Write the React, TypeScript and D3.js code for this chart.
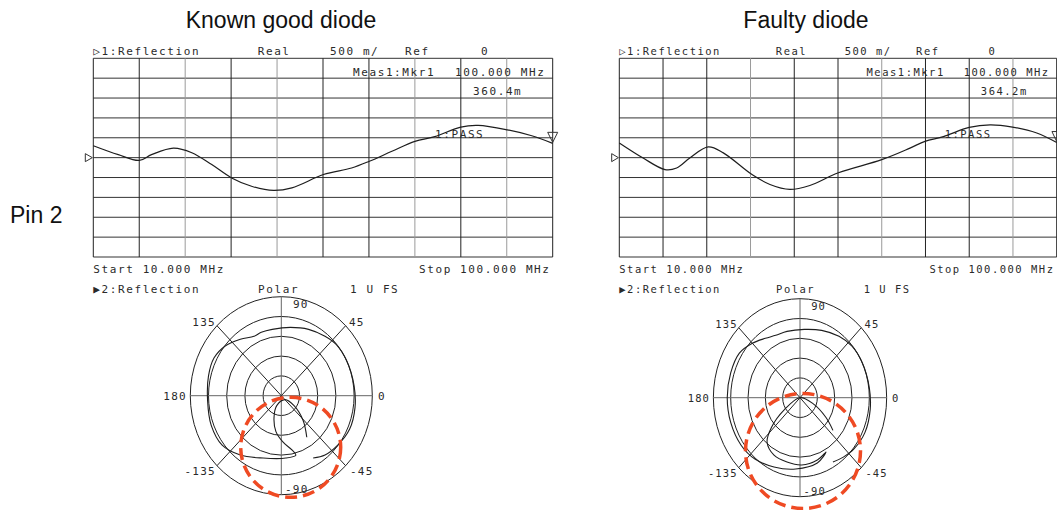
import React from 'react';
import * as d3 from 'd3';

// ---------- data ----------
const goodFreq = [10, 14.9, 19.0, 21.4, 25.7, 29.3, 33.2, 37.1, 41.0, 45.3, 48.9, 55.1, 60.6, 64.1, 68.5, 73.0, 76.9, 82.0, 85.4, 91.1, 95.9, 100];
const goodReal = [0.30, 0.075, -0.07, 0.075, 0.24, 0.125, -0.175, -0.51, -0.72, -0.825, -0.76, -0.425, -0.26, -0.09, 0.16, 0.41, 0.53, 0.77, 0.81, 0.70, 0.55, 0.36];

const faultyFreq = [10, 14.9, 19.4, 21.8, 24.5, 28.3, 31.4, 37.3, 41.0, 45.1, 49.2, 55.1, 64.0, 69.8, 72.9, 76.7, 82.0, 86.3, 90.9, 95.9, 100];
const faultyReal = [0.37, -0.01, -0.30, -0.26, -0.01, 0.27, 0.12, -0.425, -0.675, -0.80, -0.70, -0.38, -0.05, 0.24, 0.41, 0.53, 0.76, 0.825, 0.77, 0.62, 0.38];

const goodPolarRe = [0.28, 0.24, 0.14, 0.04, -0.05, -0.08, -0.06, 0.02, 0.12, 0.16, 0.05, -0.2, -0.45, -0.65, -0.77, -0.81, -0.8, -0.74, -0.62, -0.45, -0.3, -0.22, -0.1, 0.1, 0.3, 0.48, 0.6, 0.72, 0.8, 0.81, 0.75, 0.62, 0.48, 0.35];
const goodPolarIm = [-0.42, -0.25, -0.1, -0.04, -0.1, -0.22, -0.36, -0.47, -0.55, -0.6, -0.63, -0.63, -0.6, -0.5, -0.3, -0.05, 0.2, 0.38, 0.5, 0.57, 0.6, 0.64, 0.67, 0.69, 0.67, 0.6, 0.52, 0.35, 0.1, -0.12, -0.34, -0.5, -0.6, -0.63];

const faultyPolarRe = [0.38, 0.3, 0.15, 0.0, -0.18, -0.33, -0.38, -0.3, -0.15, 0.02, 0.2, 0.3, 0.2, -0.05, -0.3, -0.52, -0.68, -0.8, -0.84, -0.8, -0.7, -0.55, -0.4, -0.28, -0.15, 0.05, 0.25, 0.45, 0.6, 0.72, 0.8, 0.81, 0.75, 0.62, 0.5, 0.38];
const faultyPolarIm = [-0.33, -0.2, -0.06, 0.0, -0.12, -0.3, -0.45, -0.58, -0.65, -0.68, -0.63, -0.55, -0.66, -0.72, -0.7, -0.62, -0.48, -0.25, 0.0, 0.25, 0.45, 0.55, 0.6, 0.63, 0.67, 0.69, 0.68, 0.62, 0.52, 0.35, 0.1, -0.12, -0.35, -0.52, -0.6, -0.65];

const titles = ['Known good diode', 'Faulty diode'];
const markerValues = ['360.4m', '364.2m'];
const rowLabel = 'Pin 2';
const ringLevels = [0.2, 0.4, 0.6, 0.8, 1.0];
const spokeAngles = [0, 45, 90, 135];
const angleLabels = ['0', '45', '90', '135', '180', '-135', '-90', '-45'];
const freqDomain = [10, 100];
const realDomain = [-2.5, 2.5];
const divisions = 10;

// ---------- layout ----------
const W = 459.4;
const TOP = 58.3;
const BOTTOM = 257;
const MONO = '"DejaVu Sans Mono", monospace';
const INK = '#2a2a2a';

type PanelProps = {
  x0: number; sx: number; freq: number[]; real: number[];
  pre: number[]; pim: number[]; marker: string; pcx: number; pcy: number;
  vTone: boolean[];
};

const T = (p: { x: number; y: number; children: any; anchor?: string; size?: number }) => (
  <text x={p.x} y={p.y} fontFamily={MONO} fontSize={p.size ?? 11} letterSpacing={1.6}
    fill={INK} textAnchor={p.anchor ?? 'start'}>{p.children}</text>
);

function Panel({ x0, sx, freq, real, pre, pim, marker, pcx, pcy, vTone }: PanelProps) {
  const x = d3.scaleLinear().domain(freqDomain).range([0, W]);
  const y = d3.scaleLinear().domain(realDomain).range([BOTTOM, TOP]);
  const line = d3.line<number>().x((_, i) => x(freq[i])).y((d) => y(d)).curve(d3.curveCatmullRom.alpha(0.5));
  const xs = d3.range(divisions + 1).map((i) => freqDomain[0] + (i * (freqDomain[1] - freqDomain[0])) / divisions);
  const ys = d3.range(divisions + 1).map((i) => realDomain[0] + (i * (realDomain[1] - realDomain[0])) / divisions);
  const yEnd = y(real[real.length - 1]);

  const rx = 91, ry = 99;
  const px = d3.scaleLinear().domain([-1, 1]).range([pcx - rx, pcx + rx]);
  const py = d3.scaleLinear().domain([-1, 1]).range([pcy + ry, pcy - ry]);
  const pline = d3.line<number>().x((d) => px(d)).y((_, i) => py(pim[i])).curve(d3.curveCatmullRom.alpha(0.5));

  const lab = [
    { t: angleLabels[0], x: pcx + 96.7, y: pcy + 4.3, a: 'start' },
    { t: angleLabels[1], x: pcx + 67.7, y: pcy - 69.7, a: 'start' },
    { t: angleLabels[2], x: pcx + 11.7, y: pcy - 87.7, a: 'start' },
    { t: angleLabels[3], x: pcx - 65.5, y: pcy - 69.7, a: 'end' },
    { t: angleLabels[4], x: pcx - 94.5, y: pcy + 4.3, a: 'end' },
    { t: angleLabels[5], x: pcx - 65.5, y: pcy + 79.3, a: 'end' },
    { t: angleLabels[6], x: pcx + 3.7, y: pcy + 97.3, a: 'start' },
    { t: angleLabels[7], x: pcx + 68.7, y: pcy + 79.3, a: 'start' },
  ];

  return (
    <g transform={`translate(${x0},0) scale(${sx},1)`}>
      {ys.map((v, i) => (
        <line key={'h' + i} x1={0} x2={W} y1={y(v)} y2={y(v)} stroke="#333" strokeWidth={1} vectorEffect="non-scaling-stroke" />
      ))}
      {xs.map((v, i) => (
        <line key={'v' + i} x1={x(v)} x2={x(v)} y1={TOP} y2={BOTTOM}
          stroke={i === 0 || i === divisions || vTone[i] ? '#222' : '#9a9a9a'} strokeWidth={1} vectorEffect="non-scaling-stroke" />
      ))}
      <T x={0} y={55}>▷1:Reflection</T>
      <T x={164.4} y={55}>Real</T>
      <T x={236.7} y={55}>500 m/</T>
      <T x={311.7} y={55}>Ref</T>
      <T x={387.7} y={55}>0</T>
      <T x={259.7} y={76}>Meas1:Mkr1</T>
      <T x={361.7} y={76}>100.000 MHz</T>
      <T x={379.7} y={95}>{marker}</T>
      <T x={341.7} y={138}>1:PASS</T>
      <path d={line(real) ?? ''} fill="none" stroke="#1e1e1e" strokeWidth={1.2} vectorEffect="non-scaling-stroke" />
      <path d={`M${-8},${y(0) - 4}L${-1},${y(0)}L${-8},${y(0) + 4}Z`} fill="white" stroke="#333" strokeWidth={1} vectorEffect="non-scaling-stroke" />
      <path d={`M${W - 5},${yEnd - 11}L${W + 5},${yEnd - 11}L${W},${yEnd - 1}Z`} fill="none" stroke="#333" strokeWidth={1} vectorEffect="non-scaling-stroke" />
      <line x1={W} x2={W} y1={yEnd - 24} y2={yEnd - 11} stroke="#333" strokeWidth={1} vectorEffect="non-scaling-stroke" />
      <T x={0} y={273}>Start 10.000 MHz</T>
      <T x={325.7} y={273}>Stop 100.000 MHz</T>
      <T x={0} y={293}>▶2:Reflection</T>
      <T x={164.7} y={293}>Polar</T>
      <T x={256.7} y={293}>1 U FS</T>
      {ringLevels.map((r, i) => (
        <ellipse key={'r' + i} cx={pcx} cy={pcy} rx={rx * r} ry={ry * r} fill="none" stroke="#222" strokeWidth={1} vectorEffect="non-scaling-stroke" />
      ))}
      {spokeAngles.map((a, i) => {
        const t = (a * Math.PI) / 180;
        return (
          <line key={'s' + i} x1={px(Math.cos(t))} y1={py(Math.sin(t))} x2={px(-Math.cos(t))} y2={py(-Math.sin(t))}
            stroke={a % 90 === 0 ? '#666' : '#222'} strokeWidth={1} vectorEffect="non-scaling-stroke" />
        );
      })}
      {lab.map((l, i) => (
        <text key={'l' + i} x={l.x} y={l.y} fontFamily={MONO} fontSize={11} letterSpacing={1.2} fill={INK} textAnchor={l.a}>{l.t}</text>
      ))}
      <path d={pline(pre) ?? ''} fill="none" stroke="#1e1e1e" strokeWidth={1.1} vectorEffect="non-scaling-stroke" />
    </g>
  );
}

export default function App() {
  return (
    <svg width={1057} height={510} style={{ position: 'absolute', left: 0, top: 0, background: 'white' }}>
      <rect width={1057} height={510} fill="white" />
      <text x={281} y={28.3} fontFamily='"Liberation Sans", Arial, sans-serif' fontSize={23} textAnchor="middle" fill="#111">{titles[0]}</text>
      <text x={806} y={28.3} fontFamily='"Liberation Sans", Arial, sans-serif' fontSize={23} textAnchor="middle" fill="#111">{titles[1]}</text>
      <text x={10} y={223} fontFamily='"Liberation Sans", Arial, sans-serif' fontSize={23} fill="#111">{rowLabel}</text>
      <Panel x0={93.3} sx={1} freq={goodFreq} real={goodReal} pre={goodPolarRe} pim={goodPolarIm}
        marker={markerValues[0]} pcx={188} pcy={395.7}
        vTone={[true, true, false, true, false, true, true, false, true, false, true]} />
      <Panel x0={619.3} sx={437.4 / W} freq={faultyFreq} real={faultyReal} pre={faultyPolarRe} pim={faultyPolarIm}
        marker={markerValues[1]} pcx={189.8} pcy={397.7}
        vTone={[true, true, true, false, true, true, false, true, true, false, true]} />
      <circle cx={290.7} cy={447.3} r={50} fill="none" stroke="#ef4a23" strokeWidth={3.5} strokeDasharray="12 6" />
      <circle cx={803} cy={451} r={57.5} fill="none" stroke="#ef4a23" strokeWidth={3.5} strokeDasharray="12 6" />
    </svg>
  );
}
